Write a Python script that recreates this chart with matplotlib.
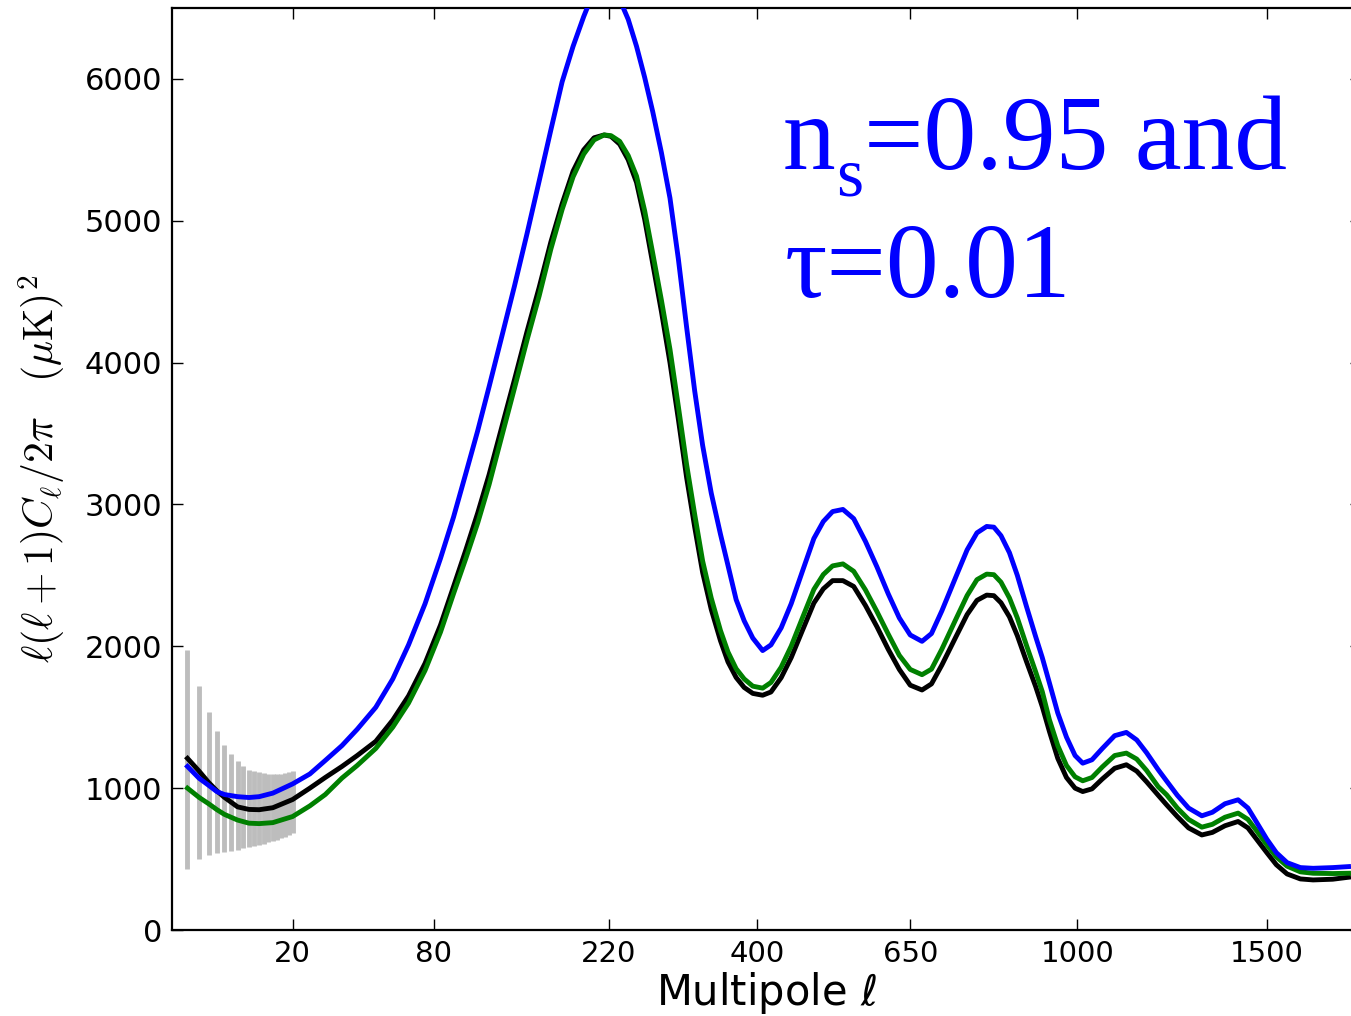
import numpy as np
import matplotlib
matplotlib.use('Agg')
import matplotlib.pyplot as plt
from matplotlib.ticker import NullLocator

ell = [2, 3, 4, 5, 6, 8, 10, 12, 15, 20, 25, 30, 36, 42, 50, 58, 66, 75, 84, 92,
       100, 108, 116, 126, 135, 145, 155, 165, 175, 185, 195, 205, 215, 222, 231,
       240, 249, 258, 267, 277, 287, 297, 307, 317, 327, 338, 350, 360, 371, 382,
       394, 408, 420, 435, 450, 468, 485, 500, 515, 532, 550, 570, 590, 610, 630,
       650, 672, 690, 710, 738, 760, 780, 800, 815, 830, 848, 865, 885, 905, 920,
       936, 955, 975, 995, 1013, 1035, 1060, 1090, 1119, 1145, 1170, 1200, 1222,
       1250, 1280, 1316, 1345, 1380, 1417, 1445, 1470, 1500, 1528, 1560, 1600,
       1639, 1700, 1750]

cl_blue = [1153, 1070, 1020, 975, 955, 940, 934, 940, 965, 1030, 1100, 1195, 1300,
           1415, 1570, 1770, 2010, 2300, 2620, 2910, 3220, 3520, 3830, 4210, 4540,
           4910, 5280, 5640, 5980, 6230, 6440, 6620, 6720, 6710, 6560, 6420, 6230,
           6010, 5770, 5480, 5160, 4730, 4250, 3800, 3416, 3080, 2791, 2570, 2329,
           2180, 2058, 1970, 2010, 2130, 2300, 2540, 2760, 2880, 2950, 2965, 2900,
           2740, 2560, 2370, 2200, 2080, 2035, 2090, 2250, 2494, 2680, 2800, 2845,
           2840, 2780, 2660, 2500, 2280, 2070, 1920, 1742, 1530, 1360, 1230, 1176,
           1200, 1280, 1370, 1393, 1340, 1250, 1130, 1050, 950, 860, 805, 830, 890,
           918, 860, 760, 640, 545, 475, 440, 435, 440, 447]

cl_green = [1000, 935, 890, 848, 815, 775, 753, 750, 757, 800, 875, 955, 1071,
            1160, 1280, 1430, 1600, 1830, 2100, 2370, 2620, 2870, 3140, 3506, 3820,
            4160, 4470, 4800, 5080, 5310, 5470, 5570, 5605, 5600, 5560, 5460, 5315,
            5070, 4772, 4440, 4094, 3690, 3282, 2930, 2601, 2340, 2112, 1960, 1842,
            1770, 1719, 1705, 1745, 1853, 2001, 2210, 2401, 2506, 2567, 2581, 2529,
            2398, 2245, 2086, 1936, 1837, 1800, 1839, 1980, 2195, 2358, 2470, 2509,
            2505, 2452, 2341, 2200, 2006, 1822, 1680, 1482, 1300, 1160, 1080, 1052,
            1075, 1150, 1230, 1247, 1205, 1125, 1010, 953, 860, 780, 725, 745, 795,
            824, 780, 700, 600, 515, 450, 410, 400, 398, 400]

cl_black = [1210, 1120, 1040, 980, 935, 868, 850, 848, 862, 920, 1000, 1075, 1153,
            1230, 1330, 1480, 1650, 1880, 2150, 2420, 2680, 2940, 3210, 3570, 3880,
            4220, 4530, 4850, 5120, 5350, 5500, 5585, 5605, 5595, 5540, 5430, 5270,
            5010, 4700, 4360, 4000, 3600, 3190, 2840, 2520, 2260, 2040, 1890, 1780,
            1710, 1668, 1655, 1678, 1779, 1920, 2121, 2305, 2405, 2463, 2463, 2422,
            2288, 2138, 1979, 1837, 1726, 1692, 1735, 1868, 2070, 2224, 2324, 2361,
            2357, 2307, 2208, 2075, 1892, 1718, 1574, 1400, 1210, 1075, 1000, 976,
            995, 1065, 1140, 1165, 1120, 1045, 950, 882, 800, 720, 670, 688, 735,
            765, 720, 640, 545, 460, 395, 360, 353, 358, 372]

# low-l error bars (cosmic variance band)
err_ell = list(range(2, 21))
err_hi = [1976, 1722, 1536, 1400, 1306, 1240, 1188, 1153, 1129, 1118, 1111, 1105,
          1099, 1098, 1099, 1101, 1106, 1112, 1118]
err_lo = [428, 499, 529, 546, 553, 560, 565, 576, 583, 592, 600, 608, 617, 626,
          635, 647, 659, 670, 682]

xticks = [20, 80, 220, 400, 650, 1000, 1500]
yticks = [0, 1000, 2000, 3000, 4000, 5000, 6000]


def fwd(x):
    x = np.asarray(x, dtype=float)
    return np.sign(x) * np.abs(x) ** 0.45


def inv(x):
    x = np.asarray(x, dtype=float)
    return np.sign(x) * np.abs(x) ** (1 / 0.45)


fig = plt.figure(figsize=(13.51, 10.16), dpi=100)
ax = fig.add_axes([172 / 1351, 86 / 1016, (1361 - 172) / 1351, (930 - 8) / 1016])
ax.set_xscale('function', functions=(fwd, inv))

ax.vlines(err_ell, err_lo, err_hi, color='#bdbdbd', linewidth=3.5, zorder=1)
ax.plot(ell, cl_blue, color='#0000ff', linewidth=3.5, zorder=3,
        solid_joinstyle='round')
ax.plot(ell, cl_black, color='k', linewidth=3.5, zorder=2,
        solid_joinstyle='round')
ax.plot(ell, cl_green, color='#008000', linewidth=3.5, zorder=2.5,
        solid_joinstyle='round')

ax.set_xlim(1, 1790)
ax.set_ylim(0, 6500)
ax.set_xticks(xticks)
ax.set_xticklabels([str(t) for t in xticks])
ax.set_yticks(yticks)
ax.xaxis.set_minor_locator(NullLocator())
ax.yaxis.set_minor_locator(NullLocator())
ax.tick_params(direction='in', length=8, width=1, top=True, right=True,
               labelsize=22, pad=7)
ax.tick_params(axis='x', labelsize=21)
for s in ax.spines.values():
    s.set_linewidth(1.6)

ax.set_xlabel(r'Multipole $\ell$', fontsize=30, labelpad=2)
ax.set_ylabel(r'$\ell(\ell+1)C_\ell/2\pi\ \ \ (\mu\mathrm{K})^2$', fontsize=30,
              labelpad=12, math_fontfamily='cm')

# annotation, set in pieces so the subscript sits as low as in the original
blue = '#0000ff'
serif = 'Liberation Serif'
fig.text(783 / 1351, 1 - 169 / 1016, 'n', color=blue, fontsize=76, family=serif,
         va='baseline', ha='left')
fig.text(836 / 1351, 1 - 196 / 1016, 's', color=blue, fontsize=50, family=serif,
         va='baseline', ha='left')
fig.text(864 / 1351, 1 - 169 / 1016, '=0.95 and', color=blue, fontsize=76,
         family=serif, va='baseline', ha='left')
fig.text(785 / 1351, 1 - 297 / 1016, 'τ=0.01', color=blue, fontsize=76,
         family=serif, va='baseline', ha='left')

fig.savefig('out.png', dpi=100)
